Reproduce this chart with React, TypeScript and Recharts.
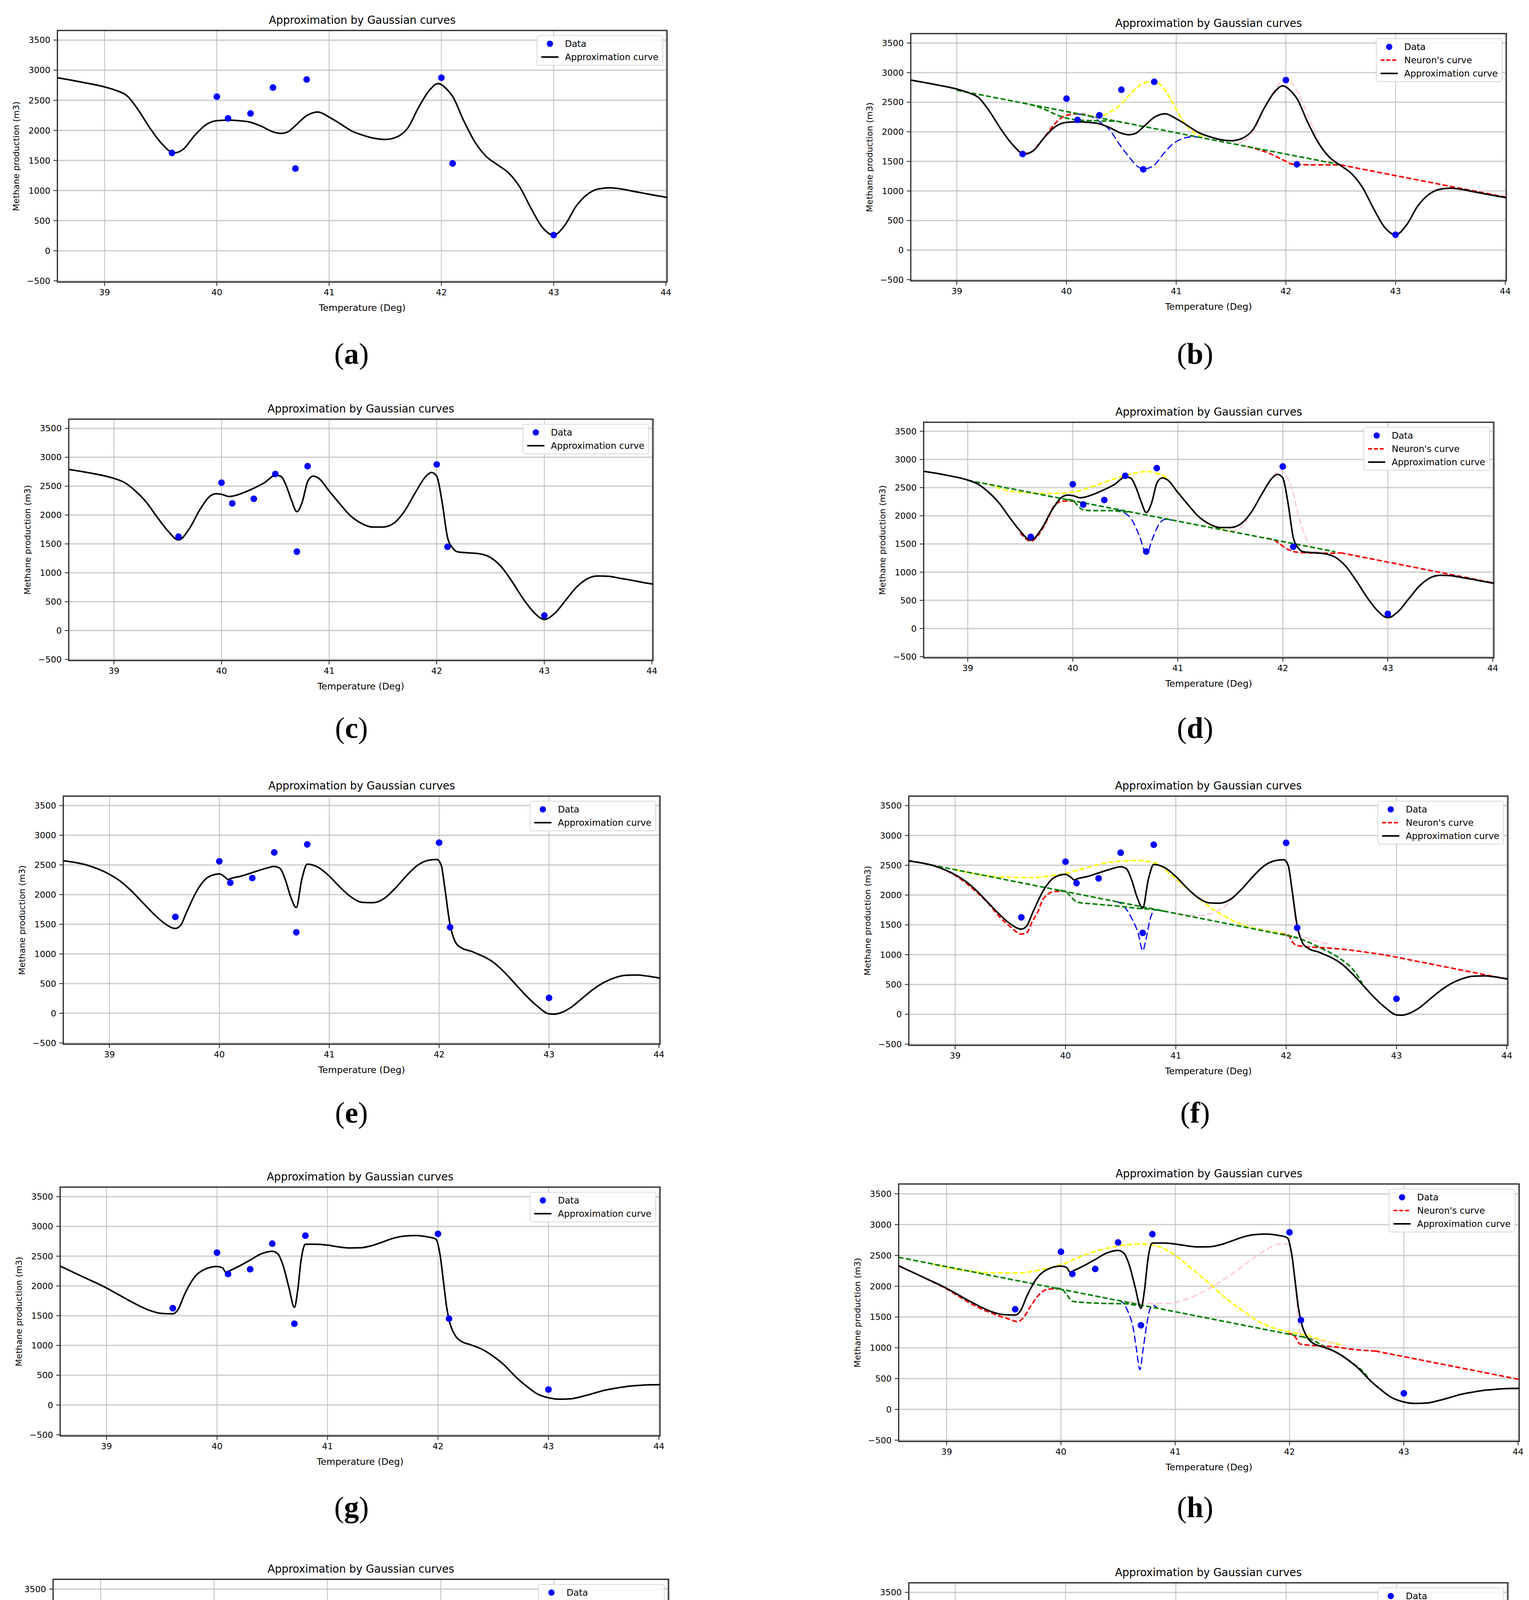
import React from "react";
import {
  ComposedChart,
  Line,
  Scatter,
  XAxis,
  YAxis,
  CartesianGrid,
  ReferenceArea,
  Legend,
} from "recharts";

type Pt = [number, number];

const X_MIN = 38.58;
const X_MAX = 44.01;
const Y_MIN = -520;
const Y_MAX = 3660;
const xTicks = [39, 40, 41, 42, 43, 44];
const yTicks = [-500, 0, 500, 1000, 1500, 2000, 2500, 3000, 3500];

const TITLE = "Approximation by Gaussian curves";
const X_LABEL = "Temperature (Deg)";
const Y_LABEL = "Methane production (m3)";
const FONT = "'DejaVu Sans', Verdana, sans-serif";

// measured points (same in every panel)
const dataX = [39.6, 40.0, 40.1, 40.3, 40.5, 40.7, 40.8, 42.0, 42.1, 43.0];
const dataY = [1625, 2560, 2200, 2280, 2710, 1365, 2845, 2875, 1450, 260];

// approximation curves (a..j share them pairwise)
const curveAB: Pt[] = [
  [38.58, 2875], [38.8, 2800], [39.0, 2722], [39.1, 2665], [39.2, 2575], [39.3, 2340],
  [39.4, 2050], [39.5, 1800], [39.62, 1625], [39.7, 1685], [39.8, 1910], [39.9, 2090],
  [40.0, 2160], [40.1, 2168], [40.2, 2160], [40.3, 2135], [40.4, 2065], [40.5, 1975],
  [40.57, 1950], [40.63, 1973], [40.7, 2080], [40.8, 2245], [40.9, 2305], [41.0, 2220],
  [41.1, 2109], [41.2, 1990], [41.3, 1920], [41.4, 1869], [41.5, 1849], [41.6, 1888],
  [41.7, 2038], [41.8, 2392], [41.9, 2680], [41.97, 2777], [42.05, 2680], [42.1, 2565],
  [42.2, 2156], [42.3, 1802], [42.4, 1566], [42.5, 1428], [42.6, 1290], [42.7, 1054],
  [42.8, 700], [42.9, 386], [43.0, 260], [43.1, 425], [43.2, 740], [43.3, 936],
  [43.4, 1027], [43.5, 1046], [43.6, 1027], [43.7, 991], [43.8, 956], [43.9, 921],
  [44.01, 886],
];

const curveCD: Pt[] = [
  [38.58, 2790], [38.8, 2720], [39.0, 2634], [39.1, 2560], [39.2, 2416], [39.3, 2224],
  [39.4, 1968], [39.5, 1728], [39.6, 1568], [39.7, 1760], [39.8, 2096], [39.9, 2336],
  [39.95, 2368], [40.0, 2358], [40.07, 2320], [40.1, 2326], [40.2, 2384], [40.3, 2464],
  [40.4, 2560], [40.5, 2688], [40.55, 2672], [40.6, 2512], [40.65, 2256], [40.7, 2058],
  [40.75, 2224], [40.8, 2576], [40.85, 2672], [40.9, 2640], [41.0, 2416], [41.1, 2192],
  [41.2, 1984], [41.3, 1856], [41.4, 1792], [41.5, 1792], [41.6, 1856], [41.7, 2064],
  [41.8, 2384], [41.9, 2672], [41.95, 2736], [42.0, 2672], [42.05, 2224], [42.1, 1616],
  [42.15, 1424], [42.2, 1360], [42.3, 1344], [42.4, 1328], [42.5, 1264], [42.6, 1104],
  [42.7, 848], [42.8, 560], [42.9, 320], [43.0, 192], [43.1, 304], [43.2, 528],
  [43.3, 752], [43.4, 896], [43.5, 944], [43.6, 938], [43.7, 906], [43.8, 874],
  [43.9, 838], [44.01, 803],
];

const curveEF: Pt[] = [
  [38.58, 2571], [38.8, 2495], [39.0, 2342], [39.1, 2224], [39.2, 2062], [39.3, 1870],
  [39.4, 1679], [39.5, 1517], [39.6, 1429], [39.65, 1487], [39.7, 1694], [39.8, 2077],
  [39.9, 2297], [40.0, 2348], [40.05, 2297], [40.08, 2253], [40.1, 2268], [40.2, 2312],
  [40.3, 2371], [40.4, 2430], [40.5, 2474], [40.55, 2445], [40.6, 2253], [40.65, 1959],
  [40.7, 1782], [40.75, 2253], [40.8, 2513], [40.9, 2459], [41.0, 2312], [41.1, 2121],
  [41.2, 1959], [41.3, 1870], [41.4, 1864], [41.5, 1935], [41.6, 2106], [41.7, 2312],
  [41.8, 2489], [41.9, 2577], [41.98, 2592], [42.02, 2489], [42.05, 2135], [42.1, 1487],
  [42.15, 1193], [42.2, 1105], [42.3, 1040], [42.35, 1000], [42.4, 960], [42.5, 850],
  [42.6, 680], [42.69, 500], [42.8, 280], [42.9, 110], [43.0, -10], [43.05, -15],
  [43.1, 5], [43.2, 100], [43.3, 250], [43.4, 400], [43.5, 520], [43.6, 600],
  [43.7, 640], [43.8, 645], [43.9, 625], [44.01, 592],
];

const curveGH: Pt[] = [
  [38.58, 2332], [38.8, 2141], [39.0, 1965], [39.1, 1862], [39.2, 1759], [39.3, 1662],
  [39.4, 1582], [39.5, 1538], [39.6, 1532], [39.65, 1612], [39.7, 1832], [39.8, 2156],
  [39.9, 2288], [40.0, 2326], [40.05, 2303], [40.08, 2229], [40.1, 2244], [40.2, 2332],
  [40.3, 2435], [40.4, 2538], [40.5, 2582], [40.55, 2538], [40.6, 2332], [40.65, 1979],
  [40.7, 1641], [40.73, 1920], [40.76, 2420], [40.8, 2700], [40.9, 2700], [41.0, 2685],
  [41.1, 2656], [41.2, 2638], [41.3, 2641], [41.4, 2676], [41.5, 2738], [41.6, 2803],
  [41.7, 2838], [41.8, 2847], [41.9, 2826], [41.98, 2788], [42.02, 2509], [42.05, 2068],
  [42.08, 1626], [42.1, 1435], [42.15, 1185], [42.2, 1082], [42.3, 1009], [42.4, 935],
  [42.5, 818], [42.6, 671], [42.7, 479], [42.8, 318], [42.9, 185], [43.0, 121],
  [43.1, 97], [43.2, 103], [43.3, 141], [43.4, 191], [43.5, 244], [43.6, 279],
  [43.7, 309], [43.8, 326], [43.9, 338], [44.01, 341],
];

const curveIJ: Pt[] = [
  [38.58, 2460], [38.8, 2290], [39.0, 2084], [39.1, 1966], [39.2, 1863], [39.3, 1766],
  [39.4, 1701], [39.5, 1663], [39.58, 1660], [39.65, 1760], [39.7, 1936], [39.8, 2231],
  [39.9, 2393], [40.0, 2443], [40.05, 2349], [40.09, 2237], [40.15, 2284], [40.2, 2334],
  [40.3, 2437], [40.4, 2555], [40.5, 2619], [40.55, 2525], [40.6, 2260], [40.65, 1848],
  [40.69, 1524], [40.72, 1937], [40.75, 2525], [40.8, 2790], [40.9, 2796], [41.0, 2775],
  [41.1, 2755], [41.2, 2737], [41.3, 2749], [41.4, 2790], [41.5, 2843], [41.6, 2908],
  [41.7, 2961], [41.8, 2978], [41.9, 2961], [41.98, 2878], [42.02, 2613], [42.05, 2231],
  [42.08, 1701], [42.1, 1436], [42.15, 1245], [42.2, 1186], [42.3, 1098], [42.4, 1001],
  [42.5, 862], [42.6, 700], [42.7, 524], [42.8, 377], [42.9, 283], [43.0, 259],
  [43.1, 253], [43.2, 265], [43.3, 294], [43.4, 341], [43.5, 383], [43.6, 421],
  [43.7, 447], [43.8, 465], [43.9, 471], [44.01, 471],
];

// neuron curves of panel (b)
const bGreenLine: Pt[] = [[39.0, 2703], [42.5, 1443]];
const bGreenDip: Pt[] = [[39.6, 2487], [39.7, 2445], [39.81, 2372], [39.93, 2272], [40.1, 2199], [40.3, 2184], [40.46, 2180]];
const bRed1: Pt[] = [[39.55, 1700], [39.6, 1630], [39.68, 1660], [39.75, 1796], [39.82, 1960], [39.88, 2106], [39.99, 2272], [40.1, 2305], [40.2, 2280]];
const bRed2: Pt[] = [[41.65, 1750], [41.75, 1700], [41.87, 1618], [41.99, 1510], [42.06, 1452], [42.22, 1442], [42.42, 1442], [42.5, 1440]];
const bRedTail: Pt[] = [[42.5, 1440], [44.01, 893]];
const bBlue: Pt[] = [[40.1, 2300], [40.25, 2240], [40.3, 2173], [40.39, 2040], [40.48, 1796], [40.57, 1575], [40.66, 1398], [40.7, 1372], [40.79, 1420], [40.88, 1620], [40.97, 1796], [41.06, 1885], [41.15, 1918], [41.25, 1892]];
const bYellow: Pt[] = [[40.2, 2271], [40.3, 2265], [40.39, 2327], [40.48, 2438], [40.57, 2615], [40.66, 2770], [40.76, 2847], [40.81, 2847], [40.88, 2748], [40.97, 2482], [41.06, 2195], [41.14, 2018], [41.2, 1950], [41.27, 1900]];
const bPink: Pt[] = [[41.55, 1785], [41.6, 1830], [41.7, 1990], [41.8, 2380], [41.9, 2720], [42.0, 2890], [42.1, 2700], [42.2, 2280], [42.3, 1850], [42.4, 1540], [42.5, 1445]];

// panel (d)
const dGreenLine: Pt[] = [[39.0, 2630], [42.5, 1362]];
const dGreenDip: Pt[] = [[39.95, 2288], [40.0, 2276], [40.04, 2195], [40.1, 2105], [40.18, 2092], [40.37, 2092], [40.48, 2072], [40.55, 2068]];
const dRed1: Pt[] = [[39.5, 1700], [39.6, 1550], [39.68, 1679], [39.76, 1937], [39.83, 2195], [39.91, 2260], [39.99, 2262], [40.06, 2243], [40.12, 2220]];
const dRed2: Pt[] = [[41.85, 1600], [41.92, 1566], [41.97, 1501], [42.05, 1404], [42.13, 1356], [42.28, 1340], [42.47, 1336], [42.55, 1344]];
const dRedTail: Pt[] = [[42.55, 1344], [44.01, 808]];
const dBlue: Pt[] = [[40.4, 2122], [40.48, 2066], [40.56, 1937], [40.64, 1614], [40.69, 1356], [40.71, 1345], [40.75, 1549], [40.83, 1872], [40.88, 1937], [40.95, 1922]];
const dYellow: Pt[] = [[39.2, 2558], [39.4, 2440], [39.6, 2405], [39.8, 2395], [40.0, 2420], [40.2, 2525], [40.4, 2660], [40.55, 2740], [40.7, 2785], [40.8, 2755], [40.88, 2690], [41.0, 2420], [41.1, 2190], [41.2, 1985], [41.3, 1850], [41.4, 1770], [41.5, 1725]];
const dPink: Pt[] = [[41.5, 1725], [41.6, 1790], [41.7, 2050], [41.8, 2380], [41.9, 2680], [41.97, 2810], [42.05, 2650], [42.1, 2400], [42.15, 2000], [42.2, 1700], [42.25, 1500], [42.3, 1380], [42.35, 1345]];

// panel (f)
const fGreenLine: Pt[] = [[38.58, 2580], [42.1, 1288]];
const fGreenDip: Pt[] = [[39.95, 2078], [40.0, 2065], [40.05, 1968], [40.11, 1880], [40.26, 1850], [40.44, 1821], [40.66, 1777], [40.81, 1755], [40.9, 1728]];
const fGreen2: Pt[] = [[42.0, 1325], [42.13, 1263], [42.31, 1116], [42.5, 920], [42.62, 720], [42.69, 520]];
const fRed1: Pt[] = [[38.8, 2500], [39.0, 2330], [39.2, 2040], [39.3, 1860], [39.4, 1640], [39.5, 1470], [39.6, 1345], [39.65, 1370], [39.7, 1560], [39.75, 1720], [39.8, 1940], [39.9, 2060], [40.0, 2065]];
const fRed2: Pt[] = [[41.95, 1345], [42.02, 1330], [42.05, 1234], [42.09, 1160], [42.2, 1131], [42.35, 1116], [42.53, 1087], [42.72, 1043], [42.9, 994]];
const fRedTail: Pt[] = [[42.9, 994], [44.01, 588]];
const fBlue: Pt[] = [[40.45, 1894], [40.51, 1850], [40.59, 1645], [40.66, 1351], [40.7, 1065], [40.73, 1263], [40.77, 1615], [40.81, 1748], [40.86, 1745]];
const fYellow: Pt[] = [[39.0, 2426], [39.19, 2352], [39.41, 2306], [39.67, 2291], [39.85, 2320], [40.0, 2364], [40.15, 2438], [40.33, 2526], [40.51, 2570], [40.66, 2579], [40.81, 2541], [40.95, 2350], [41.1, 2115], [41.25, 1880], [41.36, 1733], [41.47, 1615], [41.61, 1498], [41.8, 1410], [41.98, 1351], [42.05, 1310]];
const fPink: Pt[] = [[40.88, 1736], [41.06, 1674], [41.21, 1659], [41.36, 1718], [41.47, 1850], [41.56, 2026], [41.65, 2200], [41.75, 2400], [41.85, 2540], [41.95, 2590], [42.02, 2489], [42.05, 2135], [42.08, 1600], [42.1, 1380], [42.2, 1270], [42.3, 1215], [42.4, 1178]];

// panel (h)
const hGreenLine: Pt[] = [[38.58, 2470], [42.1, 1183]];
const hGreenDip: Pt[] = [[39.95, 1970], [40.0, 1960], [40.05, 1866], [40.1, 1755], [40.21, 1735], [40.39, 1720], [40.57, 1714], [40.66, 1691], [40.72, 1685]];
const hGreen2: Pt[] = [[42.1, 1183], [42.17, 1150], [42.31, 1018], [42.46, 872], [42.56, 740], [42.65, 600], [42.7, 479]];
const hRed1: Pt[] = [[38.58, 2330], [38.8, 2140], [39.0, 1955], [39.13, 1808], [39.27, 1661], [39.42, 1544], [39.56, 1457], [39.62, 1425], [39.67, 1486], [39.74, 1691], [39.81, 1866], [39.89, 1954], [40.0, 1960]];
const hRed2: Pt[] = [[41.98, 1230], [42.02, 1223], [42.06, 1149], [42.09, 1062], [42.24, 1033], [42.38, 1018], [42.56, 974], [42.75, 948]];
const hRedTail: Pt[] = [[42.75, 948], [44.01, 487]];
const hBlue: Pt[] = [[40.5, 1770], [40.54, 1735], [40.59, 1574], [40.63, 1340], [40.66, 989], [40.69, 645], [40.72, 989], [40.75, 1369], [40.78, 1632], [40.81, 1691], [40.84, 1650]];
const hYellow: Pt[] = [[38.87, 2364], [39.13, 2261], [39.42, 2217], [39.63, 2217], [39.85, 2276], [40.0, 2349], [40.21, 2510], [40.43, 2627], [40.57, 2671], [40.68, 2685], [40.83, 2656], [40.97, 2539], [41.15, 2276], [41.3, 2042], [41.44, 1808], [41.59, 1603], [41.73, 1427], [41.88, 1310], [42.02, 1252], [42.17, 1193], [42.38, 1076], [42.45, 1050]];
const hPink: Pt[] = [[40.6, 1750], [40.75, 1720], [40.94, 1720], [41.08, 1778], [41.23, 1895], [41.37, 2042], [41.51, 2217], [41.66, 2422], [41.8, 2597], [41.91, 2685], [41.98, 2685], [42.02, 2550], [42.05, 2000], [42.08, 1400], [42.1, 1200], [42.2, 1150], [42.3, 1110], [42.4, 1076]];

// panel (j)
const jGreenLine: Pt[] = [[38.58, 2585], [42.1, 1300]];
const jGreenDip: Pt[] = [[39.98, 2075], [40.02, 2040], [40.04, 1950], [40.07, 1799], [40.11, 1744], [40.26, 1723], [40.44, 1723], [40.62, 1738], [40.81, 1732], [40.95, 1714], [41.0, 1701]];
const jGreen2: Pt[] = [[42.1, 1300], [42.2, 1194], [42.35, 1088], [42.53, 922], [42.72, 680], [42.86, 408], [42.97, 287], [43.08, 257], [43.2, 258], [43.35, 275], [43.5, 335], [43.7, 425], [43.9, 462], [44.01, 468]];
const jRed1: Pt[] = [[38.58, 2449], [38.86, 2222], [39.04, 2010], [39.23, 1829], [39.41, 1678], [39.56, 1572], [39.61, 1557], [39.67, 1617], [39.74, 1829], [39.81, 1980], [39.89, 2056], [39.96, 2071], [40.02, 2066]];
const jRed2: Pt[] = [[41.94, 1370], [42.0, 1285], [42.05, 1209], [42.13, 1164], [42.27, 1119], [42.42, 1073], [42.57, 1043], [42.72, 1013], [42.86, 982], [43.0, 972]];
const jRedTail: Pt[] = [[43.0, 972], [44.01, 600]];
const jBlue: Pt[] = [[40.45, 1875], [40.51, 1859], [40.57, 1708], [40.62, 1345], [40.66, 982], [40.7, 595], [40.73, 952], [40.76, 1345], [40.79, 1708], [40.82, 1738], [40.88, 1745]];
const jYellow: Pt[] = [[39.0, 2432], [39.23, 2343], [39.41, 2319], [39.59, 2319], [39.78, 2358], [39.93, 2418], [40.07, 2524], [40.26, 2675], [40.44, 2772], [40.59, 2811], [40.7, 2802], [40.84, 2736], [40.99, 2585], [41.14, 2373], [41.28, 2161], [41.43, 1950], [41.61, 1708], [41.8, 1527], [41.98, 1406], [42.16, 1300], [42.35, 1209], [42.53, 1130], [42.6, 1115]];
const jPink: Pt[] = [[40.5, 1870], [40.7, 1814], [40.88, 1829], [41.06, 1920], [41.25, 2071], [41.43, 2282], [41.61, 2494], [41.8, 2705], [41.91, 2811], [41.98, 2841], [42.02, 2700], [42.05, 2100], [42.08, 1500], [42.1, 1300], [42.2, 1250], [42.3, 1215], [42.4, 1184]];

type Style = { stroke: string; dash: string; width: number };
const GREEN: Style = { stroke: "#008000", dash: "13 6", width: 4 };
const RED: Style = { stroke: "#ff0000", dash: "13 6", width: 4 };
const BLUE: Style = { stroke: "#0000ff", dash: "18 8", width: 3 };
const YELLOW: Style = { stroke: "#ffff00", dash: "13 6", width: 4 };
const PINK: Style = { stroke: "#ffc0cb", dash: "16 7", width: 3 };

type Neuron = { key: string; style: Style; pts: Pt[]; straight?: boolean };

// drawing order: bumps first, shared linear part last
const neurons = (
  yellow: Pt[], pink: Pt[], blue: Pt[], red1: Pt[], greenDip: Pt[],
  green2: Pt[] | null, red2: Pt[], redTail: Pt[], greenLine: Pt[],
): Neuron[] => {
  const list: Neuron[] = [
    { key: "yellow", style: YELLOW, pts: yellow },
    { key: "pink", style: PINK, pts: pink },
    { key: "blue", style: BLUE, pts: blue },
    { key: "red1", style: RED, pts: red1 },
    { key: "greenDip", style: GREEN, pts: greenDip },
  ];
  if (green2) list.push({ key: "green2", style: GREEN, pts: green2 });
  list.push({ key: "red2", style: RED, pts: red2 });
  list.push({ key: "redTail", style: RED, pts: redTail, straight: true });
  list.push({ key: "greenLine", style: GREEN, pts: greenLine, straight: true });
  return list;
};

type Panel = {
  tag: string;
  box: [number, number, number, number]; // plot left, right, top, bottom
  label: [number, number];
  black: Pt[];
  lines: Neuron[] | null;
};

const panels: Panel[] = [
  { tag: "a", box: [147, 1708, 78, 722], label: [900, 905], black: curveAB, lines: null },
  { tag: "b", box: [2332, 3857, 86, 719], label: [3060, 905], black: curveAB,
    lines: neurons(bYellow, bPink, bBlue, bRed1, bGreenDip, null, bRed2, bRedTail, bGreenLine) },
  { tag: "c", box: [176, 1672, 1073, 1691], label: [900, 1863], black: curveCD, lines: null },
  { tag: "d", box: [2365, 3825, 1081, 1684], label: [3060, 1863], black: curveCD,
    lines: neurons(dYellow, dPink, dBlue, dRed1, dGreenDip, null, dRed2, dRedTail, dGreenLine) },
  { tag: "e", box: [162, 1690, 2038, 2673], label: [900, 2848], black: curveEF, lines: null },
  { tag: "f", box: [2327, 3861, 2038, 2676], label: [3060, 2848], black: curveEF,
    lines: neurons(fYellow, fPink, fBlue, fRed1, fGreenDip, fGreen2, fRed2, fRedTail, fGreenLine) },
  { tag: "g", box: [154, 1690, 3039, 3676], label: [900, 3858], black: curveGH, lines: null },
  { tag: "h", box: [2301, 3890, 3031, 3690], label: [3060, 3858], black: curveGH,
    lines: neurons(hYellow, hPink, hBlue, hRed1, hGreenDip, hGreen2, hRed2, hRedTail, hGreenLine) },
  { tag: "i", box: [136, 1712, 4043, 4696], label: [900, 4868], black: curveIJ, lines: null },
  { tag: "j", box: [2327, 3861, 4052, 4691], label: [3060, 4868], black: curveIJ,
    lines: neurons(jYellow, jPink, jBlue, jRed1, jGreenDip, jGreen2, jRed2, jRedTail, jGreenLine) },
];

const toRows = (pts: Pt[]) => pts.map(([x, y]) => ({ x, y }));
const points = dataX.map((x, i) => ({ x, y: dataY[i] }));
const fmtY = (v: number) => (v < 0 ? `\u2212${-v}` : `${v}`);

const Y_AXIS_W = 140;
const M_TOP = 10;
const M_RIGHT = 10;
const X_AXIS_H = 74;
const M_BOTTOM = 6;

function LegendBox({ neuron }: { neuron: boolean }) {
  const rows: { name: string; icon: React.ReactNode }[] = [
    { name: "Data", icon: <circle cx={26} cy={12} r={8} fill="#0000ff" /> },
  ];
  if (neuron)
    rows.push({
      name: "Neuron's curve",
      icon: <line x1={4} x2={48} y1={12} y2={12} stroke="#ff0000" strokeWidth={4} strokeDasharray="10 5" />,
    });
  rows.push({
    name: "Approximation curve",
    icon: <line x1={4} x2={48} y1={12} y2={12} stroke="#000" strokeWidth={4} />,
  });
  return (
    <div
      style={{
        background: "rgba(255,255,255,0.85)",
        border: "2px solid #d8d8d8",
        borderRadius: 6,
        padding: "3px 10px 3px 6px",
        fontFamily: FONT,
        fontSize: 23,
        color: "#000",
      }}
    >
      {rows.map((r) => (
        <div key={r.name} style={{ display: "flex", alignItems: "center", height: 34 }}>
          <svg width={52} height={24}>{r.icon}</svg>
          <span style={{ marginLeft: 12, whiteSpace: "nowrap" }}>{r.name}</span>
        </div>
      ))}
    </div>
  );
}

function PanelChart({ p }: { p: Panel }) {
  const [L, R, T, B] = p.box;
  const width = R - L + Y_AXIS_W + M_RIGHT;
  const height = B - T + M_TOP + X_AXIS_H + M_BOTTOM;
  const tickStyle = { fontFamily: FONT, fontSize: 22, fill: "#000" };
  return (
    <>
      <div
        style={{
          position: "absolute",
          left: L,
          width: R - L,
          top: T - 44,
          lineHeight: "34px",
          textAlign: "center",
          fontFamily: FONT,
          fontSize: 27.5,
          color: "#000",
        }}
      >
        {TITLE}
      </div>
      <div style={{ position: "absolute", left: L - Y_AXIS_W, top: T - M_TOP }}>
        <ComposedChart
          width={width}
          height={height}
          margin={{ top: M_TOP, right: M_RIGHT, bottom: M_BOTTOM, left: 0 }}
        >
          <CartesianGrid horizontal vertical={false} stroke="#cfcfcf" strokeWidth={3.5} />
          <CartesianGrid horizontal={false} vertical stroke="#bdbdbd" strokeWidth={2} />
          <XAxis
            type="number"
            dataKey="x"
            domain={[X_MIN, X_MAX]}
            allowDataOverflow
            ticks={xTicks}
            height={X_AXIS_H}
            tick={tickStyle}
            tickSize={10}
            tickMargin={8}
            stroke="#222"
            strokeWidth={2}
            label={{ value: X_LABEL, position: "insideBottom", offset: 0, style: { fontFamily: FONT, fontSize: 23.5, fill: "#000" } }}
          />
          <YAxis
            type="number"
            dataKey="y"
            domain={[Y_MIN, Y_MAX]}
            allowDataOverflow
            ticks={yTicks}
            width={Y_AXIS_W}
            tick={tickStyle}
            tickFormatter={fmtY}
            tickSize={10}
            tickMargin={8}
            stroke="#222"
            strokeWidth={2}
            label={{
              value: Y_LABEL,
              angle: -90,
              position: "insideLeft",
              offset: 34,
              style: { textAnchor: "middle", fontFamily: FONT, fontSize: 22, fill: "#000" },
            }}
          />
          <Scatter
            data={points}
            isAnimationActive={false}
            shape={(s: any) => <circle cx={s.cx} cy={s.cy} r={8.5} fill="#0000ff" />}
          />
          {p.lines?.map((n) => (
            <Line
              key={n.key}
              data={toRows(n.pts)}
              dataKey="y"
              type={n.straight ? "linear" : "monotone"}
              stroke={n.style.stroke}
              strokeWidth={n.style.width}
              strokeDasharray={n.style.dash}
              dot={false}
              activeDot={false}
              isAnimationActive={false}
            />
          ))}
          <Line
            data={toRows(p.black)}
            dataKey="y"
            type="monotone"
            stroke="#000"
            strokeWidth={4}
            dot={false}
            activeDot={false}
            isAnimationActive={false}
          />
          <ReferenceArea
            x1={X_MIN}
            x2={X_MAX}
            y1={Y_MIN}
            y2={Y_MAX}
            fill="none"
            fillOpacity={0}
            stroke="#262626"
            strokeWidth={3}
            ifOverflow="visible"
          />
          <Legend
            layout="horizontal"
            align="center"
            verticalAlign="middle"
            wrapperStyle={{ left: "auto", right: M_RIGHT + 10, top: M_TOP + 12, width: "auto" }}
            content={() => <LegendBox neuron={p.lines !== null} />}
          />
        </ComposedChart>
      </div>
      <div
        style={{
          position: "absolute",
          left: p.label[0] - 100,
          width: 200,
          top: p.label[1] - 45,
          lineHeight: "90px",
          textAlign: "center",
          fontFamily: "'Liberation Serif', 'Times New Roman', serif",
          fontSize: 76,
          color: "#000",
        }}
      >
        (<b>{p.tag}</b>)
      </div>
    </>
  );
}

export default function App() {
  // negative margin cancels the default 8px body margin
  return (
    <div
      style={{
        position: "relative",
        margin: -8,
        width: 3915,
        height: 4958,
        background: "#fff",
        overflow: "hidden",
      }}
    >
      {panels.map((p) => (
        <PanelChart key={p.tag} p={p} />
      ))}
    </div>
  );
}
